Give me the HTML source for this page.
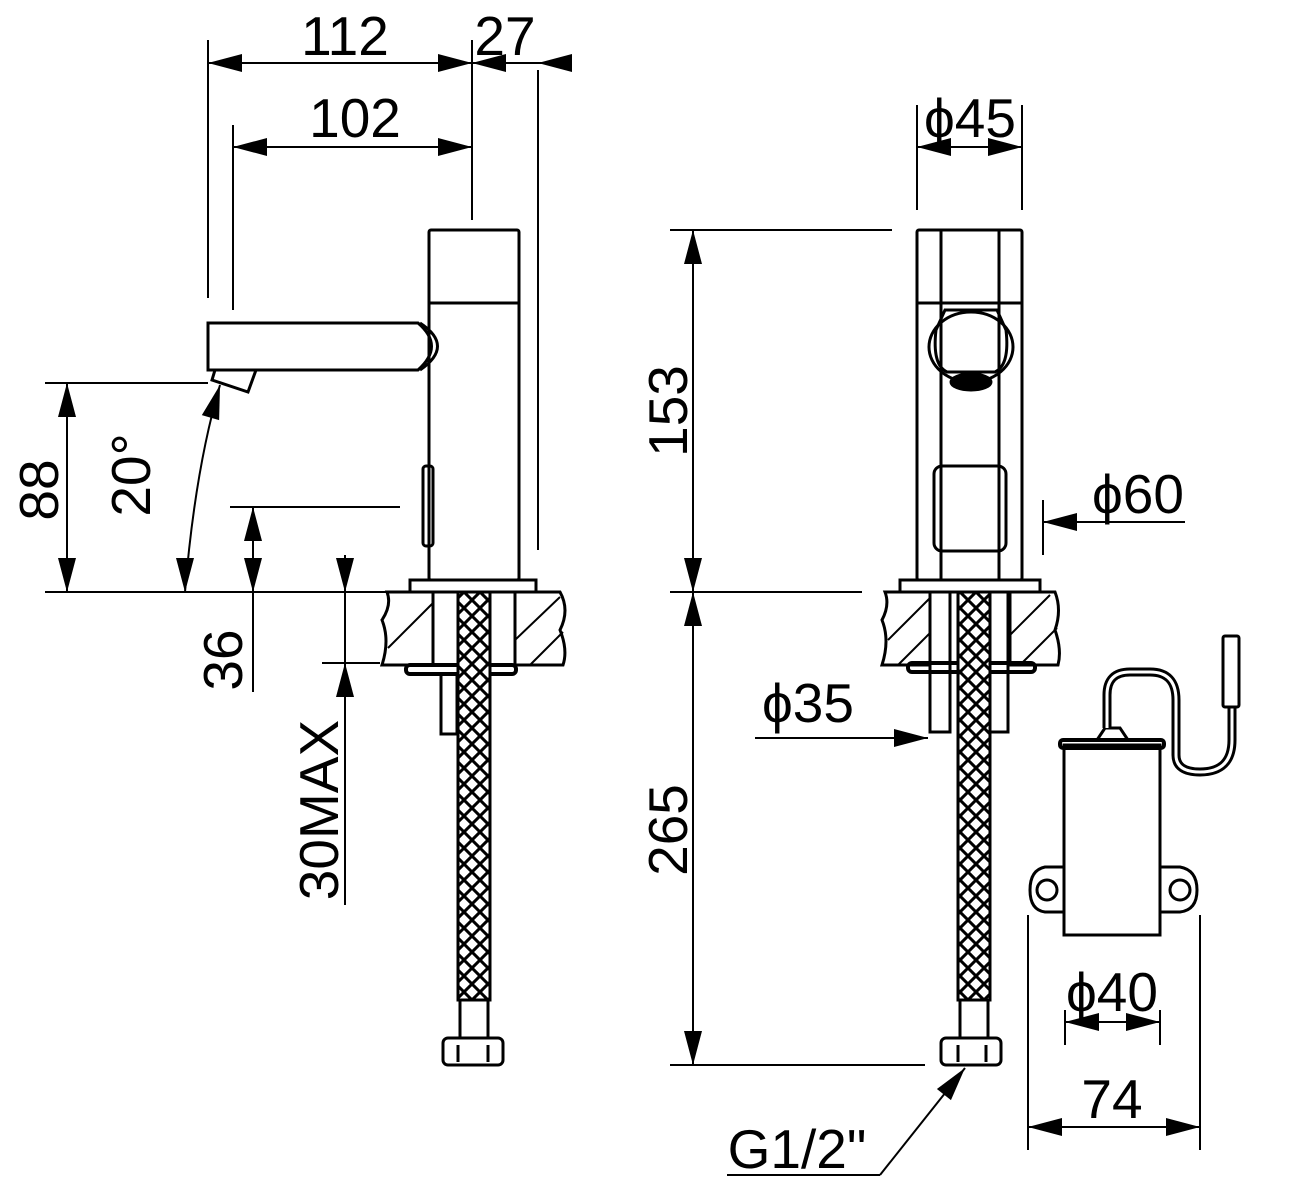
<!DOCTYPE html>
<html><head><meta charset="utf-8"><style>
html,body{margin:0;padding:0;background:#fff;}
svg{display:block}
text{font-family:"Liberation Sans",sans-serif;fill:#000}
</style></head><body>
<svg id="s" width="1299" height="1181" viewBox="0 0 1299 1181" xmlns="http://www.w3.org/2000/svg">
<defs>
<pattern id="hx" width="16" height="16" patternUnits="userSpaceOnUse">
<rect width="16" height="16" fill="#fff"/>
<path d="M0 0L16 16M16 0L0 16" stroke="#000" stroke-width="3"/>
</pattern>
</defs>
<g fill="none" stroke="#000" stroke-width="2">
<line x1="208" y1="40" x2="208" y2="298"/>
<line x1="472" y1="40" x2="472" y2="220"/>
<line x1="538" y1="70" x2="538" y2="550"/>
<line x1="233" y1="125" x2="233" y2="310"/>
<line x1="208" y1="63" x2="570" y2="63"/>
<line x1="233" y1="147" x2="472" y2="147"/>
<line x1="45" y1="383" x2="208" y2="383"/>
<line x1="45" y1="592" x2="410" y2="592"/>
<line x1="67" y1="383" x2="67" y2="592"/>
<path d="M185 592 Q195 470 220 385"/>
<line x1="230" y1="507" x2="400" y2="507"/>
<line x1="253" y1="507" x2="253" y2="692"/>
<line x1="345" y1="555" x2="345" y2="905"/>
<line x1="322" y1="663" x2="380" y2="663"/>
<g stroke-width="3">
<rect x="429" y="230" width="90" height="350" rx="2"/>
<line x1="429" y1="303" x2="519" y2="303"/>
<path d="M208 323 H418 Q445 346 418 370 H208 Z"/>
<path d="M420 323 Q455 346 420 370"/>
<path d="M215 370 L212 380 L248 392 L256 370"/>
<rect x="423" y="466" width="10" height="80" rx="3"/>
<rect x="410" y="580" width="126" height="12"/>
<path d="M387 592 H433 V665 H382 Q390 640 382 620 Q392 605 387 592Z"/>
<path d="M515 592 H560 Q570 610 560 630 Q568 650 563 665 H515Z"/>
<rect x="406" y="665" width="110" height="9" rx="4" stroke-width="4"/>
<rect x="441" y="674" width="16" height="60"/>
<rect x="458" y="592" width="32" height="408" fill="url(#hx)"/>
<rect x="460" y="1000" width="28" height="38"/>
<rect x="443" y="1038" width="60" height="27" rx="5"/>
<line x1="458" y1="1045" x2="458" y2="1062"/><line x1="488" y1="1045" x2="488" y2="1062"/>
</g>
<g stroke-width="2">
<line x1="388" y1="648" x2="433" y2="603"/>
<line x1="515" y1="640" x2="560" y2="597"/><line x1="530" y1="665" x2="563" y2="632"/>
</g>
<line x1="917" y1="105" x2="917" y2="210"/>
<line x1="1022" y1="105" x2="1022" y2="210"/>
<line x1="917" y1="147" x2="1022" y2="147"/>
<line x1="670" y1="230" x2="892" y2="230"/>
<line x1="670" y1="592" x2="862" y2="592"/>
<line x1="670" y1="1065" x2="925" y2="1065"/>
<line x1="693" y1="230" x2="693" y2="1065"/>
<line x1="1043" y1="500" x2="1043" y2="555"/>
<line x1="1043" y1="522" x2="1185" y2="522"/>
<line x1="755" y1="738" x2="928" y2="738"/>
<line x1="727" y1="1175" x2="880" y2="1175"/>
<line x1="880" y1="1175" x2="965" y2="1068"/>
<line x1="1028" y1="915" x2="1028" y2="1150"/>
<line x1="1200" y1="915" x2="1200" y2="1150"/>
<line x1="1028" y1="1127" x2="1200" y2="1127"/>
<line x1="1065" y1="1010" x2="1065" y2="1045"/>
<line x1="1160" y1="1010" x2="1160" y2="1045"/>
<line x1="1065" y1="1022" x2="1160" y2="1022"/>
<g stroke-width="3">
<rect x="917" y="230" width="105" height="350" rx="2"/>
<line x1="917" y1="303" x2="1022" y2="303"/>
<line x1="941" y1="230" x2="941" y2="580"/>
<line x1="999" y1="230" x2="999" y2="580"/>
<ellipse cx="971" cy="347" rx="42" ry="35"/>
<path d="M945 310 H997 L1006 330 Q1010 365 995 372 H947 Q932 365 936 330Z"/>
<ellipse cx="971" cy="382" rx="20" ry="8" fill="#000"/>
<rect x="934" y="466" width="72" height="85" rx="8"/>
<rect x="900" y="580" width="140" height="12"/>
<path d="M885 592 H930 V665 H882 Q890 640 882 620 Q890 605 885 592Z"/>
<path d="M1010 592 H1055 Q1062 610 1055 630 Q1062 650 1058 665 H1010Z"/>
<rect x="908" y="663" width="55" height="9" rx="4" stroke-width="4"/>
<rect x="980" y="663" width="55" height="9" rx="4" stroke-width="4"/>
<rect x="930" y="592" width="20" height="140"/>
<rect x="988" y="592" width="20" height="140"/>
<rect x="958" y="592" width="32" height="408" fill="url(#hx)"/>
<rect x="960" y="1000" width="28" height="38"/>
<rect x="941" y="1038" width="60" height="27" rx="5"/>
<line x1="958" y1="1045" x2="958" y2="1062"/><line x1="986" y1="1045" x2="986" y2="1062"/>
<rect x="1064" y="745" width="96" height="190"/>
<rect x="1060" y="740" width="104" height="8" rx="3" stroke-width="4"/>
<path d="M1097 740 L1105 728 H1120 L1128 740"/>
<path d="M1107 728 V695 Q1107 672 1130 672 H1150 Q1176 672 1176 700 V755 Q1176 772 1200 772 Q1232 772 1232 740 V707" stroke-width="9"/>
<path d="M1107 728 V695 Q1107 672 1130 672 H1150 Q1176 672 1176 700 V755 Q1176 772 1200 772 Q1232 772 1232 740 V707" stroke="#fff" stroke-width="3"/>
<rect x="1223" y="636" width="16" height="71" rx="2"/>
<path d="M1064 867 H1045 Q1030 870 1030 890 Q1030 910 1045 912 H1064Z"/>
<circle cx="1047" cy="890" r="10"/>
<path d="M1160 867 H1180 Q1197 870 1197 890 Q1197 910 1180 912 H1160Z"/>
<circle cx="1180" cy="890" r="10"/>
</g>
<g stroke-width="2">
<line x1="888" y1="640" x2="930" y2="598"/><line x1="898" y1="665" x2="930" y2="633"/>
<line x1="1010" y1="635" x2="1050" y2="595"/><line x1="1020" y1="665" x2="1057" y2="628"/>
</g>
</g>
<g id="ar" fill="#000"></g>
<g font-size="55">
<text x="345" y="55" text-anchor="middle">112</text>
<text x="505" y="55" text-anchor="middle">27</text>
<text x="355" y="137" text-anchor="middle">102</text>
<text transform="translate(58,490) rotate(-90)" text-anchor="middle">88</text>
<text transform="translate(150,475) rotate(-90)" text-anchor="middle">20°</text>
<text transform="translate(242,660) rotate(-90)" text-anchor="middle">36</text>
<text transform="translate(338,810) rotate(-90)" text-anchor="middle">30MAX</text>
<text x="970" y="137" text-anchor="middle">ϕ45</text>
<text transform="translate(687,411) rotate(-90)" text-anchor="middle">153</text>
<text transform="translate(687,830) rotate(-90)" text-anchor="middle">265</text>
<text x="1138" y="513" text-anchor="middle">ϕ60</text>
<text x="808" y="722" text-anchor="middle">ϕ35</text>
<text x="797" y="1168" text-anchor="middle">G1/2"</text>
<text x="1112" y="1011" text-anchor="middle">ϕ40</text>
<text x="1112" y="1118" text-anchor="middle">74</text>
</g>
</svg>
<script>
var g=document.getElementById('ar');
function a(x,y,dx,dy,L,W){L=L||34;W=W||9;var px=-dy,py=dx;
var p=document.createElementNS('http://www.w3.org/2000/svg','polygon');
p.setAttribute('points',x+','+y+' '+(x-dx*L+px*W)+','+(y-dy*L+py*W)+' '+(x-dx*L-px*W)+','+(y-dy*L-py*W));g.appendChild(p);}
a(208,63,-1,0);a(472,63,1,0);a(472,63,-1,0);a(538,63,-1,0);
a(233,147,-1,0);a(472,147,1,0);
a(67,383,0,-1);a(67,592,0,1);
a(220,385,0.28,-0.96);a(185,592,0,1);
a(253,507,0,-1);a(253,592,0,1);
a(345,592,0,1);a(345,663,0,-1);
a(917,147,-1,0);a(1022,147,1,0);
a(693,230,0,-1);a(693,592,0,1);a(693,592,0,-1);a(693,1065,0,1);
a(1043,522,-1,0);a(928,738,1,0);
a(965,1068,0.62,-0.78);
a(1065,1022,-1,0);a(1160,1022,1,0);
a(1028,1127,-1,0);a(1200,1127,1,0);
</script>
</body></html>
